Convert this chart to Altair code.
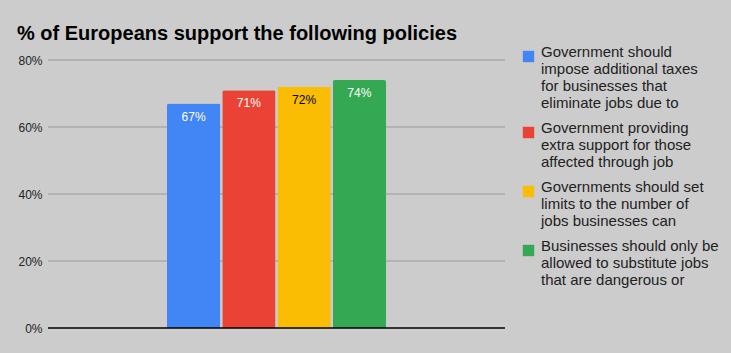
import altair as alt
import pandas as pd

series = [
    "Government should\nimpose additional taxes\nfor businesses that\neliminate jobs due to",
    "Government providing\nextra support for those\naffected through job",
    "Governments should set\nlimits to the number of\njobs businesses can",
    "Businesses should only be\nallowed to substitute jobs\nthat are dangerous or",
]
values = [67, 71, 72, 74]
colors = ["#4285f4", "#ea4335", "#fbbc04", "#34a853"]
label_colors = ["#ffffff", "#ffffff", "#000000", "#ffffff"]
grid_values = [0.2, 0.4, 0.6, 0.8]

df = pd.DataFrame({
    "series": series,
    "value": [v / 100 for v in values],
    "label": [f"{v}%" for v in values],
    "lc": label_colors,
})

xscale = alt.Scale(domain=series, range=[119, 338], paddingInner=0.036, paddingOuter=0)
x = alt.X("series:N", sort=series, axis=None, scale=xscale)
y = alt.Y("value:Q", scale=alt.Scale(domain=[0, 0.8]),
          axis=alt.Axis(format="%", values=[0, 0.2, 0.4, 0.6, 0.8], title=None,
                        domain=False, ticks=False, grid=False, labelFontSize=12,
                        labelColor="#222222", labelPadding=6,
                        labelFont="Liberation Sans"))

grid = alt.Chart(pd.DataFrame({"g": grid_values})).mark_rule(color="#999999", strokeWidth=1).encode(
    y=alt.Y("g:Q")
)

bars = alt.Chart(df).mark_bar(cornerRadiusTopLeft=2, cornerRadiusTopRight=2).encode(
    x=x,
    y=y,
    color=alt.Color("series:N", sort=series,
                    scale=alt.Scale(domain=series, range=colors),
                    legend=alt.Legend(title=None, orient="none", legendX=473, legendY=-11,
                                      direction="vertical",
                                      labelExpr="split(datum.label, '\\n')",
                                      labelFontSize=15, labelFont="Liberation Sans",
                                      labelColor="#222222", labelLimit=300,
                                      labelBaseline="alphabetic", labelOffset=5,
                                      symbolType="square", symbolSize=130,
                                      symbolStrokeWidth=0, rowPadding=9)),
)

text = alt.Chart(df).mark_text(baseline="middle", dy=13, fontSize=12,
                               font="Liberation Sans").encode(
    x=x,
    y="value:Q",
    text="label:N",
    color=alt.Color("lc:N", scale=None),
)

zero = alt.Chart(pd.DataFrame({"z": [0]})).mark_rule(color="#000000", strokeWidth=1.5).encode(
    y="z:Q"
)

chart = alt.layer(grid, bars, text, zero).properties(
    width=457, height=268,
    background="#cccccc",
    padding={"left": 48, "top": 60, "right": 226, "bottom": 25},
    autosize=alt.AutoSizeParams(type="none"),
    title=alt.TitleParams("% of Europeans support the following policies",
                          anchor="start", dx=-1, offset=5, fontSize=20,
                          font="Liberation Sans", fontWeight="bold", color="#000000"),
).configure_view(stroke=None)

chart.save("out.html", embed_options={"renderer": "svg", "actions": False})
